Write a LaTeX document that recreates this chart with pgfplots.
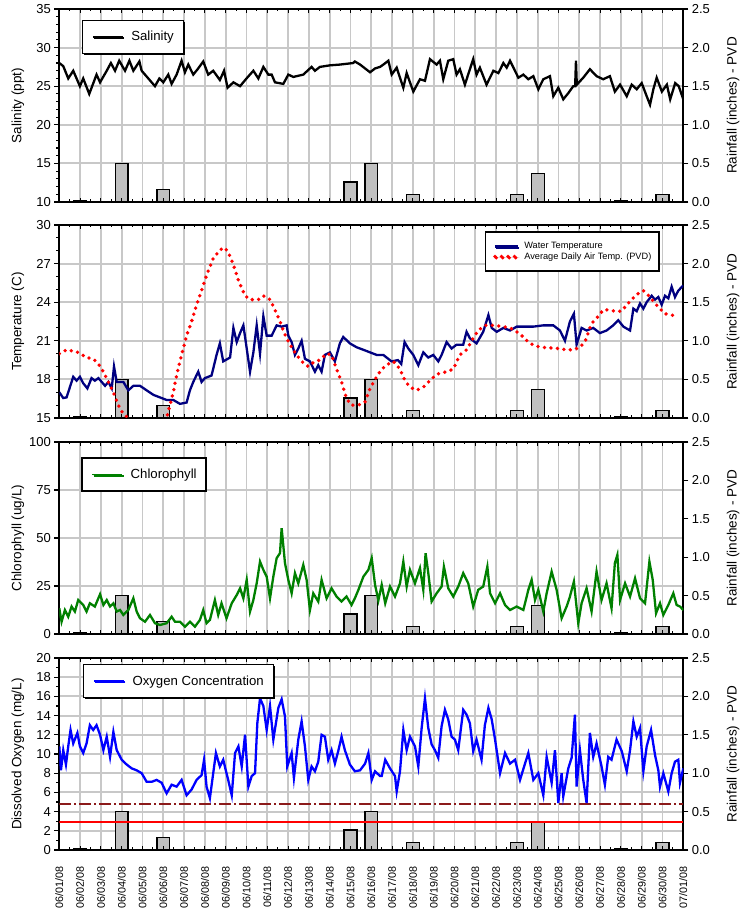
\documentclass[border=0pt]{standalone}
\usepackage{fontspec}
\setmainfont{Liberation Sans}
\usepackage{pgfplots}
\pgfplotsset{compat=1.18}
\usetikzlibrary{shadows}
\definecolor{gridc}{HTML}{C8C8C8}
\definecolor{barc}{HTML}{C0C0C0}
\definecolor{navyc}{HTML}{000080}
\definecolor{greenc}{HTML}{008000}
\definecolor{bluec}{HTML}{0000FF}
\definecolor{dkred}{HTML}{8B1A1A}
\newcommand\tickfont{\fontsize{13}{15}\selectfont}
\newcommand\labfont{\fontsize{13.5}{16}\selectfont}
\newcommand\legfont{\fontsize{13.2}{15}\selectfont}
\newcommand\smallleg{\fontsize{9.2}{10.5}\selectfont}
\newcommand\xlabfont{\fontsize{10.8}{13}\selectfont}
\pgfplotsset{
  base/.style={scale only axis, width=624pt, xmin=0, xmax=30, anchor=south west},
  bg/.style={base, xtick={0,...,30}, grid=major,
    major grid style={draw=gridc, line width=1.9pt},
    major x tick style=transparent,
    tick align=outside, ytick pos=left,
    yticklabel style={font=\tickfont},
    axis line style={line width=1.6pt},
    major tick length=5pt, minor tick length=3pt,
    tick style={black, line width=1.1pt},
    xticklabels={},
    every axis y label/.style={at={(axis description cs:-0.0665,0.5)}, rotate=90, anchor=center, font=\labfont}},
  rain/.style={base, ymin=0, ymax=2.5, axis y line*=right, axis x line=none,
    ytick={0,0.5,1,1.5,2,2.5}, yticklabels={0.0,0.5,1.0,1.5,2.0,2.5},
    tick align=outside, major tick length=5pt,
    tick style={black, line width=1.1pt},
    axis line style={line width=1.6pt},
    yticklabel style={font=\tickfont},
    ylabel={Rainfall (inches) - PVD},
    every axis y label/.style={at={(axis description cs:1.0797,0.5)}, rotate=90, anchor=center, font=\labfont}},
  fg/.style={base, xtick={0,...,30}, minor x tick num=1, xtick pos=both,
    tick align=inside, ytick=\empty, xticklabels={},
    axis line style={line width=1.8pt},
    major tick length=4pt, minor tick length=2.5pt,
    tick style={black, line width=1pt},
    legend cell align=left},
  bigleg/.style={legend image code/.code={\draw[##1, line width=1.8pt] (0pt,0pt) -- (30pt,0pt);},
    legend style={anchor=north west, draw=black, line width=1.4pt, fill=white,
      drop shadow={shadow xshift=1.3pt, shadow yshift=-1.3pt, fill=black, opacity=1},
      font=\legfont, nodes={inner sep=0pt}, column sep=7.5pt, inner xsep=9.5pt, inner ysep=11pt}},
  rainbar/.style={ybar, bar width=0.62, fill=barc, draw=black, line width=1.3pt},
}
\begin{document}
\begin{tikzpicture}
%================ PANEL 1: Salinity ================
\begin{axis}[bg, at={(59.3pt,708pt)}, height=193pt, ymin=10, ymax=35,
  ytick={10,15,20,25,30,35}, yticklabels={10,15,20,25,30,35}, minor y tick num=4,
  ylabel={Salinity (ppt)}]
\end{axis}
\begin{axis}[rain, at={(59.3pt,708pt)}, height=193pt]
\addplot[rainbar] coordinates {(1,0.02) (3,0.5) (5,0.16) (14,0.26) (15,0.5) (17,0.1) (22,0.1) (23,0.37) (27,0.02) (29,0.1)};
\end{axis}
\begin{axis}[fg, at={(59.3pt,708pt)}, height=193pt, ymin=10, ymax=35,
  bigleg, legend style={at={(0.036,0.945)}}]
\addplot[black, line width=2.3pt] coordinates {
(0,28.0) (0.19,27.6) (0.43,26.0) (0.67,27.0) (0.99,25.0) (1.15,26.0) (1.44,24.0) (1.79,26.5) (1.96,25.5) (2.28,27.0) (2.48,28.0) (2.68,27.0) (2.88,28.3) (3.16,27.0) (3.37,28.3) (3.56,27.0) (3.85,28.2) (3.96,27.0) (4.28,26.0) (4.6,25.0) (4.81,26.0) (5.0,25.5) (5.24,26.5) (5.4,25.3) (5.64,26.5) (5.88,28.3) (6.04,26.8) (6.2,27.8) (6.44,26.5) (6.65,27.2) (6.92,28.2) (7.16,26.5) (7.4,27.0) (7.72,25.8) (7.92,27.0) (8.09,24.8) (8.37,25.5) (8.69,25.0) (9.0,26.0) (9.33,27.0) (9.57,26.0) (9.81,27.5) (10.05,26.5) (10.21,26.5) (10.37,25.5) (10.77,25.3) (11.01,26.5) (11.25,26.2) (11.73,26.5) (12.13,27.5) (12.29,27.0) (12.53,27.5) (13.01,27.7) (13.49,27.8) (14.13,28.0) (14.21,28.2) (14.46,27.8) (14.7,27.3) (14.94,26.8) (15.18,27.3) (15.42,27.5) (15.58,27.8) (15.82,28.3) (15.98,26.5) (16.22,27.4) (16.54,24.8) (16.7,26.7) (17.02,24.3) (17.34,25.9) (17.58,25.7) (17.82,28.5) (18.14,27.8) (18.3,28.3) (18.46,25.9) (18.7,28.3) (18.94,28.5) (19.1,26.5) (19.26,27.2) (19.5,25.2) (19.74,27.2) (19.9,28.5) (20.06,26.5) (20.22,27.4) (20.54,25.2) (20.87,27.0) (21.11,26.7) (21.35,28.0) (21.51,27.4) (21.67,28.3) (22.07,26.1) (22.31,26.5) (22.55,25.9) (22.79,26.3) (23.03,24.6) (23.27,25.9) (23.59,26.3) (23.75,23.7) (23.99,24.8) (24.23,23.3) (24.47,24.1) (24.71,25.0) (24.8,25.0) (24.84,28.3) (24.88,25.2) (25.19,26.1) (25.51,27.2) (25.83,26.3) (26.15,25.9) (26.47,26.3) (26.71,24.3) (26.96,25.2) (27.28,23.7) (27.52,25.2) (27.76,24.6) (28.0,25.4) (28.24,23.7) (28.4,22.6) (28.56,24.6) (28.72,26.1) (28.97,24.3) (29.21,25.2) (29.37,23.3) (29.61,25.4) (29.78,25.0) (30.0,23.3)};
\addlegendentry{Salinity}
\end{axis}
%================ PANEL 2: Temperature ================
\begin{axis}[bg, at={(59.3pt,492pt)}, height=193pt, ymin=15, ymax=30,
  ytick={15,18,21,24,27,30}, yticklabels={15,18,21,24,27,30}, minor y tick num=2,
  ylabel={Temperature (C)}]
\end{axis}
\begin{axis}[rain, at={(59.3pt,492pt)}, height=193pt]
\addplot[rainbar] coordinates {(1,0.02) (3,0.5) (5,0.16) (14,0.26) (15,0.5) (17,0.1) (22,0.1) (23,0.37) (27,0.02) (29,0.1)};
\end{axis}
\begin{axis}[fg, at={(59.3pt,492pt)}, height=193pt, ymin=15, ymax=30,
  legend image code/.code={\draw[#1] (0pt,0pt) -- (23pt,0pt);},
  legend style={at={(0.682,0.967)}, anchor=north west, draw=black, line width=1.4pt, fill=white,
    drop shadow={shadow xshift=1.3pt, shadow yshift=-1.3pt, fill=black, opacity=1},
    font=\smallleg, nodes={inner sep=0pt}, column sep=4.5pt, row sep=2pt,
    inner xsep=7.5pt, inner ysep=10.5pt}]
\addplot[navyc, line width=2.3pt] coordinates {
(0,17.0) (0.19,16.55) (0.35,16.6) (0.51,17.4) (0.67,18.2) (0.83,17.9) (0.99,18.2) (1.15,17.7) (1.35,17.3) (1.55,18.1) (1.71,17.9) (1.88,18.1) (2.04,17.8) (2.2,17.5) (2.36,17.8) (2.52,17.3) (2.63,19.0) (2.76,17.8) (3.08,17.8) (3.32,17.15) (3.56,17.5) (3.88,17.5) (4.2,17.15) (4.52,16.8) (4.84,16.6) (5.16,16.4) (5.48,16.4) (5.8,16.1) (6.12,16.2) (6.28,17.15) (6.44,17.8) (6.68,18.6) (6.84,17.8) (7.0,18.1) (7.32,18.3) (7.56,19.9) (7.72,20.8) (7.88,19.4) (8.21,19.7) (8.37,22.0) (8.53,20.9) (8.69,21.6) (8.85,22.2) (9.01,20.4) (9.17,18.6) (9.33,20.1) (9.49,22.2) (9.65,20.0) (9.81,22.9) (9.97,21.4) (10.21,21.4) (10.45,22.2) (10.69,22.1) (10.93,22.2) (11.01,21.4) (11.17,20.9) (11.33,19.9) (11.49,20.4) (11.65,21.0) (11.81,19.6) (12.05,19.4) (12.29,18.6) (12.45,19.1) (12.61,18.6) (12.77,19.9) (13.01,20.1) (13.25,19.4) (13.49,20.8) (13.65,21.3) (13.97,20.8) (14.29,20.5) (14.62,20.3) (14.94,20.1) (15.26,19.9) (15.58,19.9) (15.97,19.4) (16.28,19.5) (16.44,19.2) (16.6,20.9) (16.78,20.4) (17.02,19.9) (17.26,19.1) (17.5,20.1) (17.74,19.7) (17.98,19.9) (18.22,19.4) (18.38,19.9) (18.62,20.9) (18.86,20.4) (19.1,20.7) (19.42,20.7) (19.58,21.7) (19.74,21.2) (20.06,20.8) (20.38,21.7) (20.63,23.0) (20.79,22.0) (21.03,21.7) (21.35,22.0) (21.67,21.8) (21.99,22.1) (22.31,22.1) (22.79,22.1) (23.27,22.2) (23.75,22.2) (24.07,21.8) (24.31,21.0) (24.55,22.5) (24.74,23.1) (24.87,20.7) (25.11,22.0) (25.35,21.8) (25.67,22.0) (25.99,21.6) (26.31,21.8) (26.63,22.2) (26.87,22.6) (27.12,22.1) (27.44,21.8) (27.6,23.5) (27.76,23.3) (27.92,23.9) (28.08,23.5) (28.24,24.0) (28.48,24.5) (28.64,24.2) (28.8,24.4) (28.96,23.8) (29.12,24.5) (29.28,24.3) (29.44,25.2) (29.6,24.4) (29.76,24.9) (30.0,25.3)};
\addlegendentry{Water Temperature}
\addplot[red, line width=3.8pt, line cap=round, dash pattern=on 0pt off 6.5pt] coordinates {
(0,20.0) (0.35,20.3) (0.91,20.1) (1.31,19.7) (1.63,19.6) (1.88,19.2) (2.12,18.6) (2.36,17.8) (2.6,17.0) (2.84,16.0) (3.08,15.3) (3.4,14.9) (4.2,13.8) (4.9,14.0) (5.16,15.0) (5.32,16.0) (5.48,17.0) (5.64,18.3) (5.8,19.4) (5.96,20.4) (6.12,21.4) (6.36,22.5) (6.6,23.8) (6.84,24.9) (7.08,26.1) (7.4,27.4) (7.72,28.05) (7.92,28.26) (8.12,27.9) (8.37,26.9) (8.61,25.7) (8.93,24.5) (9.17,24.2) (9.57,24.2) (9.81,24.5) (10.13,24.2) (10.37,23.4) (10.61,22.5) (10.77,21.8) (10.93,21.2) (11.17,20.5) (11.41,19.9) (11.65,19.4) (11.97,19.0) (12.29,19.4) (12.53,19.5) (12.85,20.0) (13.09,19.9) (13.33,18.8) (13.57,17.8) (13.81,16.5) (14.05,16.0) (14.38,16.0) (14.7,16.25) (14.94,17.3) (15.18,18.0) (15.42,18.6) (15.7,19.1) (16.06,19.4) (16.38,18.8) (16.62,17.9) (16.86,17.4) (17.18,17.15) (17.5,17.4) (17.82,17.9) (18.14,18.4) (18.62,18.6) (18.94,18.8) (19.26,19.9) (19.58,20.3) (19.9,21.2) (20.14,21.8) (20.46,22.2) (20.87,22.2) (21.35,22.1) (21.67,22.0) (21.99,21.7) (22.31,21.3) (22.55,20.9) (22.87,20.6) (23.19,20.5) (23.59,20.45) (23.99,20.4) (24.39,20.3) (24.71,20.3) (25.03,20.5) (25.27,20.9) (25.51,22.0) (25.67,22.5) (25.91,22.9) (26.15,23.4) (26.39,23.4) (26.71,23.3) (27.04,23.3) (27.28,23.8) (27.52,24.2) (27.76,24.6) (28.08,24.9) (28.4,24.4) (28.64,23.9) (28.88,23.5) (29.12,23.1) (29.44,23.0) (29.76,22.9)};
\addlegendentry{Average Daily Air Temp. (PVD)}
\end{axis}
%================ PANEL 3: Chlorophyll ================
\begin{axis}[bg, at={(59.3pt,276pt)}, height=192pt, ymin=0, ymax=100,
  ytick={0,25,50,75,100}, yticklabels={0,25,50,75,100},
  ylabel={Chlorophyll (ug/L)}]
\end{axis}
\begin{axis}[rain, at={(59.3pt,276pt)}, height=192pt]
\addplot[rainbar] coordinates {(1,0.02) (3,0.5) (5,0.16) (14,0.26) (15,0.5) (17,0.1) (22,0.1) (23,0.37) (27,0.02) (29,0.1)};
\end{axis}
\begin{axis}[fg, at={(59.3pt,276pt)}, height=192pt, ymin=0, ymax=100,
  bigleg, legend style={at={(0.035,0.92)}}]
\addplot[greenc, line width=2.3pt] coordinates {
(0,13.4) (0.11,6.4) (0.27,12.5) (0.43,9.0) (0.59,14.3) (0.75,11.7) (0.91,17.7) (1.15,15.1) (1.31,11.7) (1.47,16.0) (1.71,14.3) (1.96,20.7) (2.12,15.1) (2.28,17.7) (2.44,14.3) (2.6,16.0) (2.76,11.7) (2.92,12.5) (3.08,9.9) (3.32,12.5) (3.56,18.6) (3.72,11.7) (3.88,8.2) (4.12,6.4) (4.36,9.9) (4.6,5.6) (4.84,4.7) (5.16,5.6) (5.4,9.0) (5.56,6.4) (5.8,6.4) (6.04,3.8) (6.28,6.4) (6.52,3.8) (6.76,7.3) (6.92,12.5) (7.08,5.6) (7.24,7.3) (7.48,17.7) (7.64,9.9) (7.8,16.0) (8.04,8.2) (8.29,16.0) (8.53,20.3) (8.69,23.8) (8.85,18.6) (9.01,28.2) (9.17,11.7) (9.33,17.7) (9.49,26.4) (9.65,37.7) (9.81,33.4) (9.97,29.9) (10.13,18.6) (10.29,29.9) (10.45,39.5) (10.61,42.1) (10.69,55.1) (10.85,36.9) (11.01,28.2) (11.17,21.2) (11.33,31.7) (11.49,26.4) (11.73,36.0) (11.89,28.2) (12.05,12.5) (12.21,21.2) (12.45,16.9) (12.61,28.2) (12.85,18.6) (13.09,23.8) (13.33,19.5) (13.57,16.9) (13.81,19.5) (14.05,15.1) (14.21,18.6) (14.38,23.0) (14.62,29.9) (14.86,33.4) (15.02,39.5) (15.18,25.6) (15.34,17.5) (15.5,25.6) (15.67,16.0) (15.9,24.7) (16.14,19.5) (16.38,26.4) (16.54,37.7) (16.7,24.7) (16.86,33.4) (17.1,26.4) (17.34,34.3) (17.5,23.0) (17.61,42.1) (17.74,31.7) (17.9,16.9) (18.14,21.2) (18.38,24.7) (18.49,35.1) (18.7,23.8) (18.94,19.5) (19.18,24.7) (19.42,31.7) (19.66,26.4) (19.9,14.3) (20.14,23.0) (20.38,24.7) (20.58,35.1) (20.71,21.2) (20.95,16.0) (21.19,21.2) (21.43,15.1) (21.67,12.5) (21.99,14.3) (22.31,12.5) (22.55,23.0) (22.71,28.2) (22.87,17.7) (23.03,23.0) (23.27,11.7) (23.43,21.2) (23.67,32.5) (23.91,23.0) (24.15,8.2) (24.39,14.3) (24.55,19.5) (24.74,27.3) (24.95,5.6) (25.11,16.0) (25.35,23.8) (25.59,11.7) (25.83,32.5) (26.07,17.7) (26.31,26.4) (26.55,13.4) (26.71,36.9) (26.83,41.2) (26.96,17.7) (27.2,26.4) (27.44,19.5) (27.68,29.0) (27.92,18.6) (28.16,16.0) (28.37,37.7) (28.53,28.2) (28.69,10.8) (28.88,16.0) (29.04,9.9) (29.28,15.1) (29.52,21.2) (29.68,15.1) (29.84,14.3) (30.0,12.5)};
\addlegendentry{Chlorophyll}
\end{axis}
%================ PANEL 4: Dissolved oxygen ================
\begin{axis}[bg, at={(59.3pt,60pt)}, height=192pt, ymin=0, ymax=20,
  ytick={0,2,4,6,8,10,12,14,16,18,20}, yticklabels={0,2,4,6,8,10,12,14,16,18,20}, minor y tick num=1,
  ylabel={Dissolved Oxygen (mg/L)},
  xticklabels={06/01/08,06/02/08,06/03/08,06/04/08,06/05/08,06/06/08,06/07/08,06/08/08,06/09/08,06/10/08,06/11/08,06/12/08,06/13/08,06/14/08,06/15/08,06/16/08,06/17/08,06/18/08,06/19/08,06/20/08,06/21/08,06/22/08,06/23/08,06/24/08,06/25/08,06/26/08,06/27/08,06/28/08,06/29/08,06/30/08,07/01/08},
  xticklabel style={font=\xlabfont, yshift=-7.5pt, rotate=90, anchor=east}]
\end{axis}
\begin{axis}[rain, at={(59.3pt,60pt)}, height=192pt]
\addplot[rainbar] coordinates {(1,0.02) (3,0.5) (5,0.16) (14,0.26) (15,0.5) (17,0.1) (22,0.1) (23,0.37) (27,0.02) (29,0.1)};
\end{axis}
\begin{axis}[fg, at={(59.3pt,60pt)}, height=192pt, ymin=0, ymax=20,
  bigleg, legend style={at={(0.038,0.970)}}]
\addplot[dkred, line width=2pt, dash pattern=on 12pt off 3pt on 2pt off 3pt, forget plot] coordinates {(0,4.8) (30,4.8)};
\addplot[red, line width=1.6pt, forget plot] coordinates {(0,2.9) (30,2.9)};
\addplot[bluec, line width=2.3pt] coordinates {
(0,10.8) (0.08,8.3) (0.19,10.4) (0.32,8.9) (0.43,10.8) (0.54,12.5) (0.67,11.1) (0.87,12.2) (0.99,10.8) (1.15,10.1) (1.31,11.1) (1.47,13.0) (1.63,12.5) (1.79,13.0) (1.96,12.0) (2.12,10.4) (2.28,11.8) (2.44,9.7) (2.6,12.3) (2.76,10.4) (3.0,9.4) (3.24,8.9) (3.48,8.5) (3.72,8.3) (3.96,8.0) (4.2,7.1) (4.44,7.1) (4.68,7.3) (4.92,7.0) (5.16,5.9) (5.4,6.8) (5.64,6.6) (5.88,7.3) (6.12,5.7) (6.36,6.3) (6.6,7.3) (6.84,7.8) (6.96,9.4) (7.08,6.6) (7.24,5.4) (7.4,8.0) (7.53,10.1) (7.72,8.7) (7.88,9.4) (8.12,7.3) (8.29,5.7) (8.45,10.1) (8.61,10.8) (8.77,8.7) (8.93,12.0) (9.09,6.6) (9.25,7.7) (9.41,8.0) (9.52,13.2) (9.65,15.8) (9.81,15.0) (9.97,12.5) (10.13,15.0) (10.29,11.5) (10.53,14.8) (10.69,15.7) (10.85,13.9) (10.96,8.7) (11.17,10.1) (11.28,7.5) (11.49,11.5) (11.65,13.4) (11.81,10.8) (11.97,7.3) (12.13,8.7) (12.29,8.2) (12.45,9.2) (12.61,12.0) (12.77,11.8) (12.93,9.4) (13.09,10.4) (13.25,9.0) (13.41,10.3) (13.57,11.8) (13.73,10.4) (13.97,8.9) (14.21,8.2) (14.46,8.3) (14.7,9.0) (14.86,10.1) (15.02,7.3) (15.18,8.2) (15.42,7.7) (15.5,7.7) (15.67,9.4) (15.9,8.5) (16.14,7.7) (16.22,6.1) (16.38,8.2) (16.54,12.5) (16.7,10.4) (16.86,11.8) (17.1,10.8) (17.26,8.7) (17.42,12.7) (17.58,15.8) (17.74,12.7) (17.9,11.0) (18.06,10.4) (18.22,9.6) (18.38,12.9) (18.54,14.6) (18.7,13.6) (18.86,11.8) (19.02,11.5) (19.18,10.4) (19.42,14.6) (19.58,14.1) (19.74,13.2) (19.9,10.3) (20.06,11.5) (20.3,9.4) (20.46,13.0) (20.63,14.8) (20.79,13.6) (20.95,11.5) (21.19,8.0) (21.43,10.1) (21.67,9.0) (21.91,9.4) (22.15,7.3) (22.39,9.0) (22.55,10.1) (22.79,7.3) (23.03,8.0) (23.27,5.7) (23.43,9.7) (23.67,7.0) (23.83,10.4) (23.99,4.9) (24.15,8.0) (24.23,5.6) (24.47,8.5) (24.63,9.6) (24.79,14.1) (24.87,6.6) (25.03,10.4) (25.19,7.3) (25.35,4.9) (25.51,12.2) (25.67,9.7) (25.83,11.1) (26.07,8.7) (26.23,6.8) (26.39,9.7) (26.55,9.4) (26.79,11.5) (27.04,10.3) (27.28,8.2) (27.44,10.4) (27.6,13.4) (27.76,11.8) (27.92,12.7) (28.08,8.2) (28.24,10.8) (28.45,12.5) (28.64,9.9) (28.8,8.3) (28.88,6.6) (29.04,8.0) (29.28,6.1) (29.44,8.0) (29.6,9.2) (29.76,9.4) (29.84,7.0) (30.0,8.5)};
\addlegendentry{Oxygen Concentration}
\end{axis}
\pgfresetboundingbox
\path[use as bounding box] (0,0) rectangle (746pt,910pt);
\end{tikzpicture}
\end{document}
